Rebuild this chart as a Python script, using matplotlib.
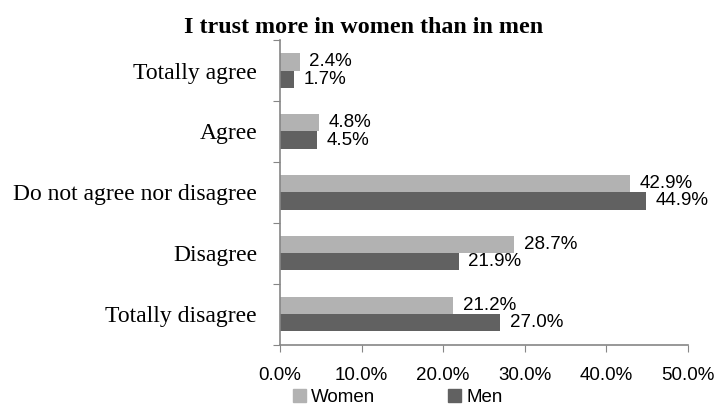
import matplotlib.pyplot as plt
from matplotlib.patches import Patch
import numpy as np

categories = ["Totally agree", "Agree", "Do not agree nor disagree", "Disagree", "Totally disagree"]
women = [2.4, 4.8, 42.9, 28.7, 21.2]
men = [1.7, 4.5, 44.9, 21.9, 27.0]
x_ticks = [0, 10, 20, 30, 40, 50]

WOMEN_COLOR = "#b2b2b2"
MEN_COLOR = "#616161"
AXIS_COLOR = "#868686"
SANS = "Liberation Sans"
SERIF = "Liberation Serif"

fig = plt.figure(figsize=(7.18, 4.17), dpi=100)
ax = fig.add_axes([0.39, 0.173, 0.568, 0.731])

n = len(categories)
centers = np.arange(n)
bar_h = 0.28
ax.barh(centers - bar_h / 2, women, height=bar_h, color=WOMEN_COLOR)
ax.barh(centers + bar_h / 2, men, height=bar_h, color=MEN_COLOR)

for y, w, m in zip(centers, women, men):
    ax.annotate(f"{w:.1f}%", (w, y - bar_h / 2), xytext=(7, 0), textcoords="offset points",
                va="center", ha="left", fontsize=13.5, family=SANS)
    ax.annotate(f"{m:.1f}%", (m, y + bar_h / 2), xytext=(7, 0), textcoords="offset points",
                va="center", ha="left", fontsize=13.5, family=SANS)

ax.set_ylim(n - 0.5, -0.5)
ax.set_xlim(0, 50)

# category boundaries get the tick marks, labels sit in the middle
ax.set_yticks(np.arange(n + 1) - 0.5)
ax.set_yticklabels([])
ax.set_yticks(centers, minor=True)
ax.set_yticklabels(categories, minor=True, family=SERIF, fontsize=17)
ax.tick_params(axis="y", which="minor", length=0, pad=16.5)
ax.tick_params(axis="y", which="major", length=5, color=AXIS_COLOR)

ax.set_xticks(x_ticks)
ax.set_xticklabels([f"{t:.1f}%" for t in x_ticks], family=SANS, fontsize=13.5)
ax.tick_params(axis="x", length=5, color=AXIS_COLOR, pad=11)

for side in ("top", "right"):
    ax.spines[side].set_visible(False)
for side in ("left", "bottom"):
    ax.spines[side].set_color(AXIS_COLOR)
    ax.spines[side].set_linewidth(1.2)

fig.text(0.506, 0.935, "I trust more in women than in men", ha="center", va="center",
         family=SERIF, fontweight="bold", fontsize=17.3)

handles = [Patch(color=WOMEN_COLOR, label="Women"), Patch(color=MEN_COLOR, label="Men")]
fig.legend(handles=handles, loc="center", bbox_to_anchor=(0.554, 0.046), ncol=2, frameon=False,
           prop={"family": SANS, "size": 13.5}, handlelength=0.7, handleheight=0.7,
           handletextpad=0.25, columnspacing=3.9)

fig.savefig("out.png", dpi=100)
